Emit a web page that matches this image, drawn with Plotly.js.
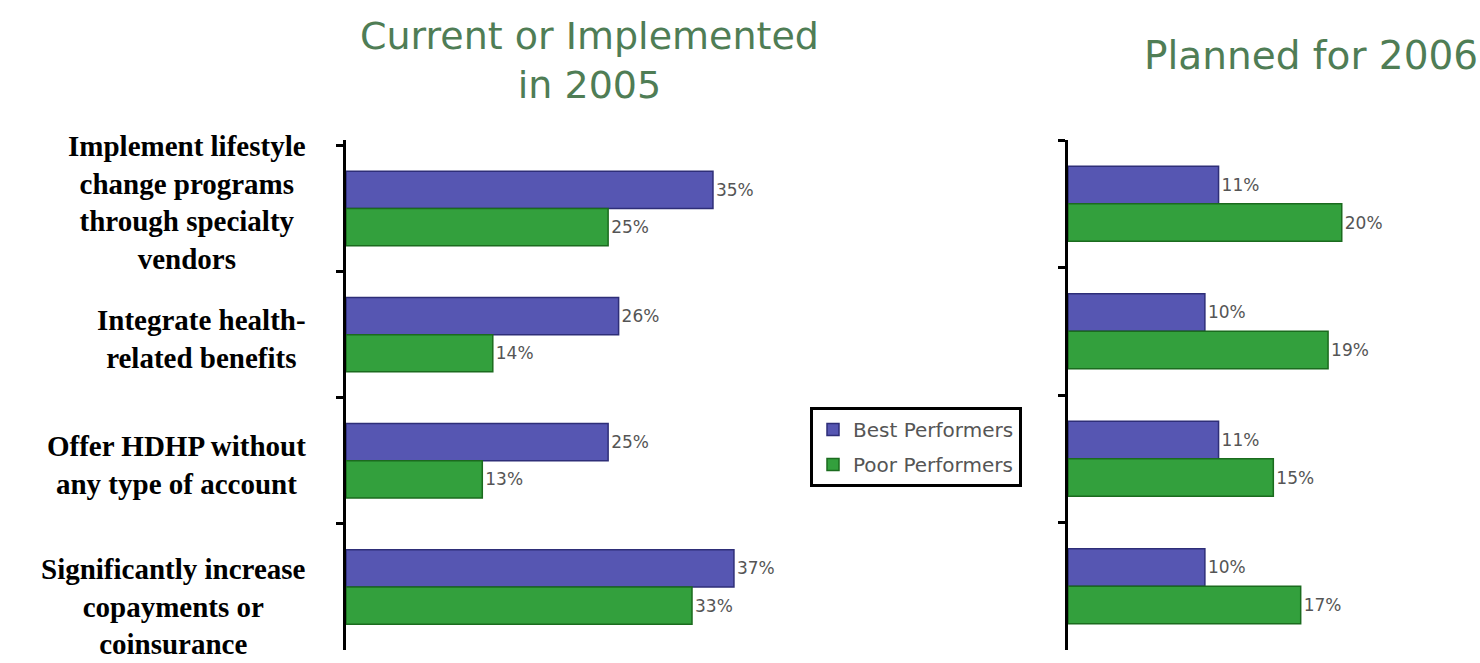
<!DOCTYPE html>
<html>
<head>
<meta charset="utf-8">
<script src="https://cdn.plot.ly/plotly-3.0.1.min.js"></script>
<style>
  html, body { margin: 0; padding: 0; background: #ffffff; }
  #chart { width: 1480px; height: 663px; }
</style>
</head>
<body>
<div id="chart"></div>
<script>
// ---- Data ----
const categories = [
  "Implement lifestyle<br>change programs<br>through specialty<br>vendors",
  "Integrate health-<br>related benefits",
  "Offer HDHP without<br>any type of account",
  "Significantly increase<br>copayments or<br>coinsurance"
];
const catKeys = ["c1", "c2", "c3", "c4"];
const seriesNames = ["Best Performers", "Poor Performers"];
const best2005 = [35, 26, 25, 37];
const poor2005 = [25, 14, 13, 33];
const best2006 = [11, 10, 11, 10];
const poor2006 = [20, 19, 15, 17];
const panelTitles = ["Current or Implemented<br>in 2005", "Planned for 2006"];

// ---- Styles ----
const W = 1480, H = 663;
const blue = "#5656b2", blueLine = "#2e2e78";
const green = "#33a03d", greenLine = "#1b6b1e";
const labelFont = { family: "DejaVu Sans", size: 17, color: "#555555" };
const titleColor = "#4f7d55";

function barTrace(vals, name, color, line, xa, ya, showLegend, group) {
  return {
    type: "bar", orientation: "h",
    x: vals, y: catKeys, name: name,
    xaxis: xa, yaxis: ya,
    marker: { color: color, line: { color: line, width: 1.5 } },
    text: vals.map(v => v + "%"),
    textposition: "outside",
    textfont: labelFont,
    cliponaxis: false,
    showlegend: showLegend,
    legendgroup: group,
    hoverinfo: "skip"
  };
}

const data = [
  barTrace(best2005, seriesNames[0], blue, blueLine, "x", "y", true, "g1"),
  barTrace(poor2005, seriesNames[1], green, greenLine, "x", "y", true, "g2"),
  barTrace(best2006, seriesNames[0], blue, blueLine, "x2", "y2", false, "g1"),
  barTrace(poor2006, seriesNames[1], green, greenLine, "x2", "y2", false, "g2")
];

const yDomain = [1 - 650 / H, 1 - 140 / H];
const yAxisStyle = {
  type: "category",
  categoryorder: "array",
  categoryarray: catKeys,
  autorange: "reversed",
  domain: yDomain,
  showline: true, linecolor: "#000000", linewidth: 3,
  ticks: "outside", tickson: "boundaries", ticklen: 7, tickwidth: 3, tickcolor: "#000000",
  showticklabels: false, showgrid: false, zeroline: false, fixedrange: true
};
const xAxisStyle = {
  showline: false, showgrid: false, zeroline: false,
  showticklabels: false, ticks: "", fixedrange: true
};

const annotations = [];
const labelShift = [6, -4, -4, -20];
categories.forEach((c, i) => {
  annotations.push({
    text: "<b>" + c + "</b>",
    xref: "paper", yref: "y",
    x: 308 / W, y: catKeys[i],
    xanchor: "right", yanchor: "middle",
    align: "center", showarrow: false,
    yshift: labelShift[i],
    font: { family: "Liberation Serif", size: 29, color: "#000000" }
  });
});
annotations.push({
  text: panelTitles[0], xref: "paper", yref: "paper",
  x: 589 / W, y: 1 - 60 / H, xanchor: "center", yanchor: "middle",
  align: "center", showarrow: false,
  font: { family: "DejaVu Sans", size: 38, color: titleColor }
});
annotations.push({
  text: panelTitles[1], xref: "paper", yref: "paper",
  x: 1142 / W, y: 1 - 55 / H, xanchor: "left", yanchor: "middle",
  align: "left", showarrow: false,
  font: { family: "DejaVu Sans", size: 39, color: titleColor }
});

const layout = {
  width: W, height: H,
  margin: { l: 0, r: 0, t: 0, b: 0 },
  paper_bgcolor: "#ffffff", plot_bgcolor: "rgba(0,0,0,0)",
  barmode: "group", bargap: 0.41, bargroupgap: 0,
  showlegend: true,
  legend: {
    x: 810 / W, y: 1 - 407 / H, xanchor: "left", yanchor: "top",
    bgcolor: "#ffffff", bordercolor: "#000000", borderwidth: 3,
    font: { family: "DejaVu Sans", size: 20, color: "#555555" },
    traceorder: "grouped", tracegroupgap: 6
  },
  xaxis: Object.assign({}, xAxisStyle, { domain: [346 / W, 800 / W], range: [0, 43.3], anchor: "y" }),
  yaxis: Object.assign({}, yAxisStyle, { anchor: "x" }),
  xaxis2: Object.assign({}, xAxisStyle, { domain: [1068 / W, 1], range: [0, 30.1], anchor: "y2" }),
  yaxis2: Object.assign({}, yAxisStyle, { anchor: "x2" }),
  annotations: annotations,
  font: { family: "DejaVu Sans" }
};

Plotly.newPlot("chart", data, layout, { displayModeBar: false, staticPlot: true });
</script>
</body>
</html>
